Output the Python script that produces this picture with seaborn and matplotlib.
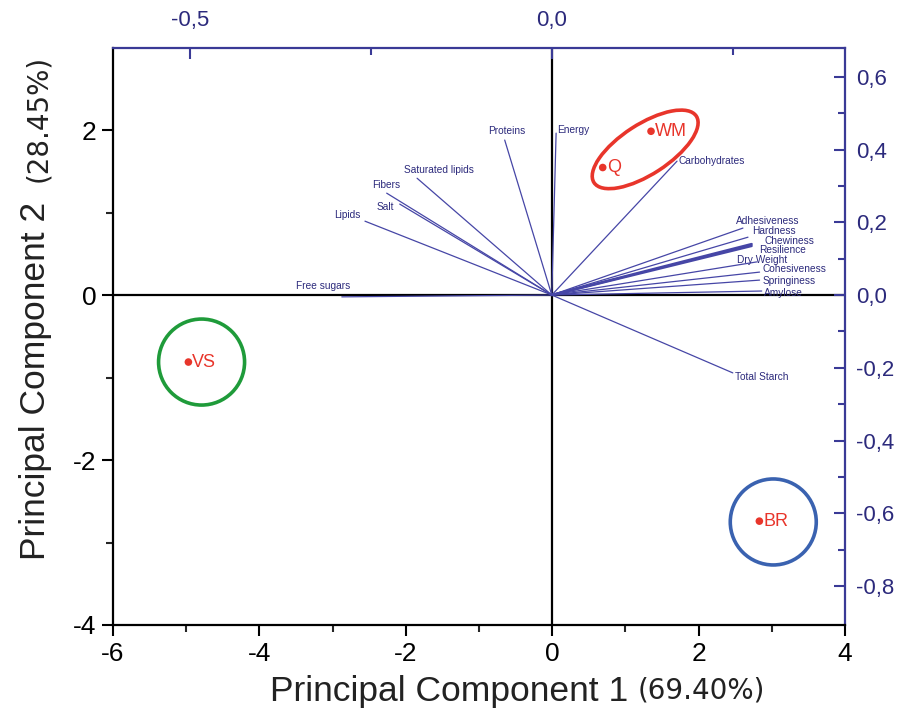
import matplotlib
matplotlib.use("Agg")
import matplotlib.pyplot as plt
import seaborn as sns
import pandas as pd
from matplotlib.patches import Ellipse
from matplotlib.transforms import ScaledTranslation
from matplotlib.ticker import FixedLocator, FuncFormatter

# Sample scores on the first two principal components
samples = ["WM", "Q", "VS", "BR"]
pc1_scores = [1.35, 0.69, -4.97, 2.83]
pc2_scores = [1.99, 1.55, -0.81, -2.74]

# Variable loadings
variables = ["Proteins", "Energy", "Saturated lipids", "Fibers", "Salt", "Lipids",
             "Free sugars", "Carbohydrates", "Adhesiveness", "Hardness", "Chewiness",
             "Resilience", "Dry Weight", "Cohesiveness", "Springiness", "Amylose",
             "Total Starch"]
pc1_loadings = [-0.065, 0.006, -0.186, -0.228, -0.210, -0.258, -0.290, 0.173, 0.264,
                0.271, 0.276, 0.276, 0.283, 0.287, 0.287, 0.290, 0.250]
pc2_loadings = [0.426, 0.445, 0.321, 0.280, 0.250, 0.203, -0.005, 0.368, 0.184,
                0.159, 0.140, 0.135, 0.091, 0.063, 0.041, 0.011, -0.214]

# Label placement for the loading vectors (pixel offsets from the tip, alignment)
label_place = {
    "Proteins": (2, 9, "center"), "Energy": (1, 3, "left"),
    "Saturated lipids": (22, 8, "center"), "Fibers": (0, 8, "center"),
    "Salt": (-14, -3, "center"), "Lipids": (-18, 6, "center"),
    "Free sugars": (-19, 11, "center"), "Carbohydrates": (1, 0, "left"),
    "Adhesiveness": (25, 7, "center"), "Hardness": (26, 6, "center"),
    "Chewiness": (38, 3, "center"), "Resilience": (31, -4, "center"),
    "Dry Weight": (5, 2, "center"), "Cohesiveness": (35, 3, "center"),
    "Springiness": (30, -1, "center"), "Amylose": (22, -2, "center"),
    "Total Starch": (2, -4, "left"),
}

scores = pd.DataFrame({"sample": samples, "PC1": pc1_scores, "PC2": pc2_scores})

sns.set_style("white")
plt.rcParams["font.family"] = ["Liberation Sans", "DejaVu Sans"]
plt.rcParams["axes.unicode_minus"] = False

BLUE = "#3a3a96"
TXT_BLUE = "#2c2a7c"
RED = "#e8352b"

fig = plt.figure(figsize=(9.03, 7.17), dpi=100)
rect = [113 / 903, 1 - 625 / 717, (845 - 113) / 903, (625 - 48) / 717]
ax = fig.add_axes(rect)
ax.set_xlim(-6, 4)
ax.set_ylim(-4, 3)

# zero reference lines
ax.axhline(0, color="black", lw=1.6, zorder=1)
ax.axvline(0, color="black", lw=1.6, zorder=1)

# score points
sns.scatterplot(data=scores, x="PC1", y="PC2", ax=ax, color=RED, s=30,
                edgecolor="none", zorder=5, legend=False)
for name, x, y in zip(samples, pc1_scores, pc2_scores):
    ax.annotate(name, (x, y), xytext=(4, 0), textcoords="offset pixels",
                ha="left", va="center", color=RED, fontsize=13, zorder=6)

# group outlines drawn in screen units so they stay round
def outline(cx, cy, w_px, h_px, angle, color):
    tr = fig.dpi_scale_trans + ScaledTranslation(cx, cy, ax.transData)
    e = Ellipse((0, 0), w_px / 100, h_px / 100, angle=angle, transform=tr,
                fill=False, edgecolor=color, lw=2.6, zorder=4)
    ax.add_patch(e)

outline(1.27, 1.77, 122, 50, 33, RED)
outline(-4.79, -0.81, 86, 86, 0, "#1f9b3a")
outline(3.02, -2.75, 86, 86, 0, "#3a62b0")

# axes for the bottom/left (score) scale
ax.set_xticks([-6, -4, -2, 0, 2, 4])
ax.set_yticks([-4, -2, 0, 2])
ax.xaxis.set_minor_locator(FixedLocator([-5, -3, -1, 1, 3]))
ax.yaxis.set_minor_locator(FixedLocator([-3, -1, 1]))
ax.tick_params(axis="both", which="major", direction="out", length=8, width=1.5,
               labelsize=19, colors="black", pad=4)
ax.tick_params(axis="both", which="minor", direction="out", length=5, width=1.5)
ax.tick_params(axis="x", which="both", top=False, bottom=True)
ax.tick_params(axis="y", which="both", right=False, left=True)
for side in ["left", "bottom"]:
    ax.spines[side].set_color("black")
    ax.spines[side].set_linewidth(1.6)
for side in ["top", "right"]:
    ax.spines[side].set_color(BLUE)
    ax.spines[side].set_linewidth(1.6)
ax.set_xlabel("")
ax.set_ylabel("")

# overlay axes for the loading (top/right) scale
ax2 = fig.add_axes(rect, frameon=False)
ax2.set_xlim(-0.606, 0.405)
ax2.set_ylim(-0.907, 0.679)
ax2.patch.set_visible(False)

for name, lx, ly in zip(variables, pc1_loadings, pc2_loadings):
    lw = 1.8 if name in ("Chewiness", "Resilience") else 0.9
    ax2.plot([0, lx], [0, ly], color="#4646a6", lw=lw, zorder=3)
    dx, dy, ha = label_place[name]
    ax2.annotate(name, (lx, ly), xytext=(dx, dy), textcoords="offset pixels",
                 ha=ha, va="center", fontsize=7.3, color=TXT_BLUE, zorder=4)

comma = FuncFormatter(lambda v, p: f"{v:.1f}".replace(".", ","))
ax2.xaxis.tick_top()
ax2.yaxis.tick_right()
ax2.set_xticks([-0.5, 0.0])
ax2.xaxis.set_minor_locator(FixedLocator([-0.25, 0.25]))
ax2.set_yticks([-0.8, -0.6, -0.4, -0.2, 0.0, 0.2, 0.4, 0.6])
ax2.yaxis.set_minor_locator(FixedLocator([-0.7, -0.5, -0.3, -0.1, 0.1, 0.3, 0.5]))
ax2.xaxis.set_major_formatter(comma)
ax2.yaxis.set_major_formatter(comma)
ax2.tick_params(axis="both", which="major", direction="in", length=8, width=1.5,
                colors=BLUE, labelcolor=TXT_BLUE, labelsize=16)
ax2.tick_params(axis="x", which="major", pad=12)
ax2.tick_params(axis="y", which="major", pad=8)
ax2.tick_params(axis="both", which="minor", direction="in", length=5, width=1.5,
                colors=BLUE)
ax2.tick_params(axis="x", which="both", bottom=False, top=True)
ax2.tick_params(axis="y", which="both", left=False, right=True)

# axis titles
fig.text(628 / 903, 1 - 692 / 717, "Principal Component 1", ha="right", va="center",
         fontsize=25.5, color="#222222")
fig.text(638 / 903, 1 - 691 / 717, "(69.40%)", ha="left", va="center",
         fontsize=20, color="#222222", family="DejaVu Sans")
fig.text(36 / 903, 1 - 381 / 717, "Principal Component 2", ha="center", va="center",
         rotation=90, fontsize=25.5, color="#222222")
fig.text(38 / 903, 1 - 118 / 717, "(28.45%)", ha="center", va="center",
         rotation=90, fontsize=20, color="#222222", family="DejaVu Sans")

fig.savefig("out.png", dpi=100)
